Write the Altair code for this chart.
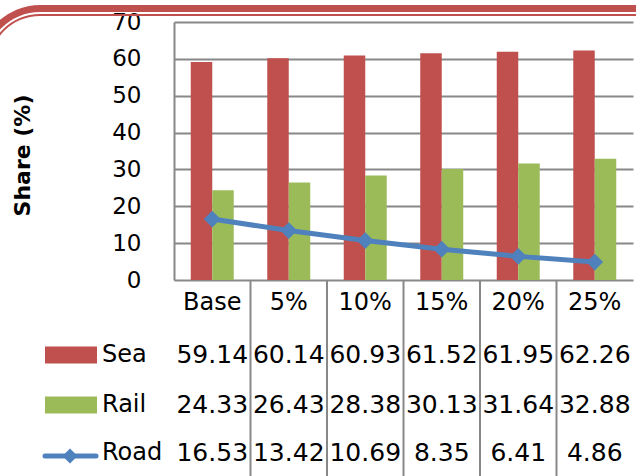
import math

import altair as alt
import pandas as pd

# Modal split by scenario (percent)
scenarios = ["Base", "5%", "10%", "15%", "20%", "25%"]
sea = [59.14, 60.14, 60.93, 61.52, 61.95, 62.26]
rail = [24.33, 26.43, 28.38, 30.13, 31.64, 32.88]
road = [16.53, 13.42, 10.69, 8.35, 6.41, 4.86]

modes = ["Sea", "Rail", "Road"]
mode_colors = ["#C0504D", "#9BBB59", "#4F81BD"]

W, H = 459, 258
FONT = "DejaVu Sans"
GRID = "#888888"
RED = "#C0504D"

bars_df = pd.DataFrame({
    "scenario": scenarios * 2,
    "mode": ["Sea"] * len(scenarios) + ["Rail"] * len(scenarios),
    "share": sea + rail,
})
road_df = pd.DataFrame({"scenario": scenarios, "share": road})

x_enc = alt.X("scenario:N", sort=scenarios,
              scale=alt.Scale(paddingInner=0, paddingOuter=0), axis=None)
y_enc = alt.Y(
    "share:Q",
    scale=alt.Scale(domain=[0, 70], nice=False),
    axis=alt.Axis(
        values=list(range(0, 71, 10)), grid=True, gridColor=GRID, gridWidth=2,
        domainColor=GRID, domainWidth=2, ticks=False,
        labelFont=FONT, labelFontSize=23, labelColor="black", labelPadding=33,
        title="Share (%)", titleFont=FONT, titleFontSize=22, titleFontWeight="bold",
        titleColor="black", titleAngle=270, titleX=-152, titleY=133,
        titleAlign="center", titleBaseline="middle",
    ),
)

bars = alt.Chart(bars_df).mark_bar().encode(
    x=x_enc,
    xOffset=alt.XOffset("mode:N", sort=["Sea", "Rail"],
                        scale=alt.Scale(paddingInner=0, paddingOuter=0.78)),
    y=y_enc,
    color=alt.Color("mode:N", scale=alt.Scale(domain=["Sea", "Rail"], range=mode_colors[:2]),
                    legend=None),
)

road_line = alt.Chart(road_df).mark_line(color=mode_colors[2], strokeWidth=5).encode(
    x=x_enc, y=y_enc)
road_pts = alt.Chart(road_df).mark_point(
    shape="diamond", filled=True, size=280, color=mode_colors[2], opacity=1
).encode(x=x_enc, y=y_enc)

# Data table under the plot
layers = [bars, road_line, road_pts]

col_lines = alt.Chart(pd.DataFrame({"scenario": scenarios[1:]})).mark_rule(
    color=GRID, strokeWidth=2
).encode(
    x=alt.X("scenario:N", sort=scenarios, bandPosition=0,
            scale=alt.Scale(paddingInner=0, paddingOuter=0), axis=None),
    y=alt.value(H), y2=alt.value(H + 196),
)
layers.append(col_lines)

header = alt.Chart(pd.DataFrame({"scenario": scenarios})).mark_text(
    font=FONT, fontSize=24, color="black", baseline="middle", align="center"
).encode(x=x_enc, y=alt.value(281), text="scenario:N")
layers.append(header)

row_y = {"Sea": 333, "Rail": 383, "Road": 431}
for mode, vals in zip(modes, [sea, rail, road]):
    df = pd.DataFrame({"scenario": scenarios, "value": vals})
    layers.append(
        alt.Chart(df).mark_text(
            font=FONT, fontSize=25, color="black", baseline="middle", align="center"
        ).encode(x=x_enc, y=alt.value(row_y[mode]),
                 text=alt.Text("value:Q", format=".2f"))
    )
    # row label
    layers.append(
        alt.Chart(pd.DataFrame({"mode": [mode]})).mark_text(
            font=FONT, fontSize=24, color="black", baseline="middle", align="left"
        ).encode(x=alt.value(-72), y=alt.value(row_y[mode]), text="mode:N")
    )

# Legend keys in the table's first column
for mode, col in zip(["Sea", "Rail"], mode_colors[:2]):
    layers.append(
        alt.Chart(pd.DataFrame({"mode": [mode]})).mark_rect(color=col).encode(
            x=alt.value(-129), x2=alt.value(-77),
            y=alt.value(row_y[mode] - 8.5), y2=alt.value(row_y[mode] + 8.5),
        )
    )
layers.append(
    alt.Chart(pd.DataFrame({"mode": ["Road"]})).mark_rule(
        color=mode_colors[2], strokeWidth=5, strokeCap="round"
    ).encode(x=alt.value(-129), x2=alt.value(-78), y=alt.value(row_y["Road"] + 3))
)
layers.append(
    alt.Chart(pd.DataFrame({"mode": ["Road"]})).mark_point(
        shape="diamond", filled=True, size=230, color=mode_colors[2], opacity=1
    ).encode(x=alt.value(-104), y=alt.value(row_y["Road"] + 3))
)

# Slide header ornament: a thick and a thin red band with a rounded corner
orn = pd.DataFrame({"k": [0]})
for r_out, r_in, yline, sw in [(61.5, 54.5, -13.5, 7), (52.5, 50.5, -7, 2)]:
    layers.append(
        alt.Chart(orn).mark_arc(
            radius=r_out, radius2=r_in, theta=3 * math.pi / 2, theta2=2 * math.pi, color=RED
        ).encode(x=alt.value(-134), y=alt.value(44.5))
    )
    layers.append(
        alt.Chart(orn).mark_rule(color=RED, strokeWidth=sw).encode(
            x=alt.value(-134), x2=alt.value(W + 3), y=alt.value(yline))
    )

chart = alt.layer(*layers).properties(
    width=W, height=H,
    autosize=alt.AutoSizeParams(type="none"),
    padding={"left": 174, "top": 22, "right": 3, "bottom": 196},
    background="white",
).configure_view(stroke=None)

chart.save("out.html", embed_options={"renderer": "svg", "actions": False})
